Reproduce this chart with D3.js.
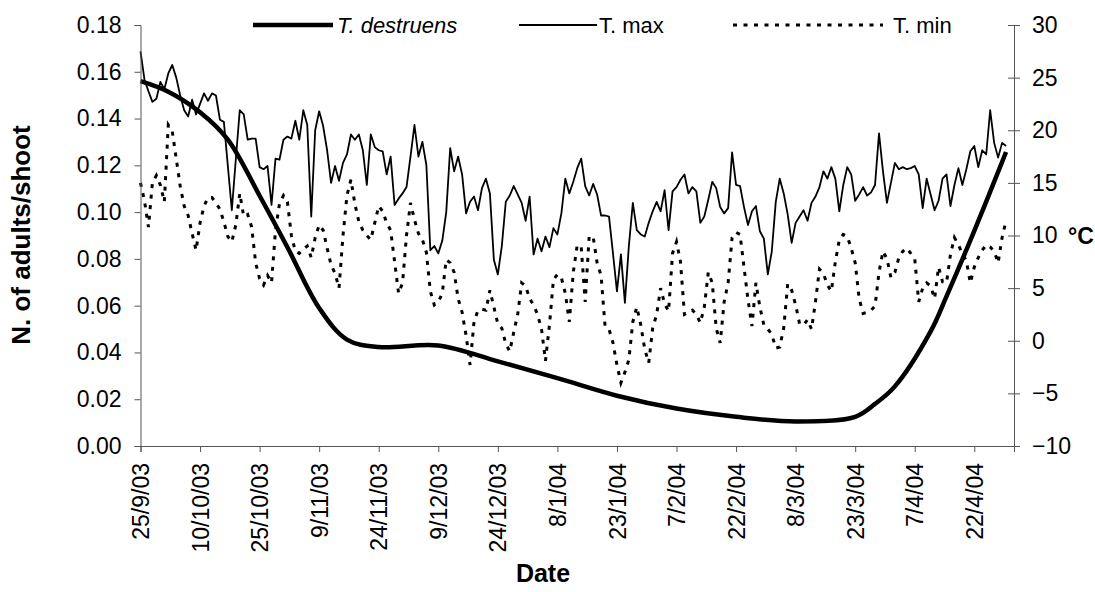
<!DOCTYPE html>
<html>
<head>
<meta charset="utf-8">
<script src="https://cdnjs.cloudflare.com/ajax/libs/d3/7.8.5/d3.min.js"></script>
<style>
  body { margin: 0; background: #fff; }
  svg { display: block; font-family: "Liberation Sans", Arial, sans-serif; }
</style>
</head>
<body>
<svg id="chart" width="1095" height="592"></svg>
<script>
// first day of the daily temperature series and end of the date axis
var startDay = "25/9/03";
var axisEnd = "2/5/04";

var tickLabels = ["25/9/03", "10/10/03", "25/10/03", "9/11/03", "24/11/03", "9/12/03",
  "24/12/03", "8/1/04", "23/1/04", "7/2/04", "22/2/04", "8/3/04", "23/3/04", "7/4/04", "22/4/04"];
var leftTicks = [0, 0.02, 0.04, 0.06, 0.08, 0.10, 0.12, 0.14, 0.16, 0.18];
var rightTicks = [-10, -5, 0, 5, 10, 15, 20, 25, 30];

// T. destruens, adults per shoot (sampling dates)
var destruensDates = ["25/9/03", "2/10/03", "10/10/03", "17/10/03", "25/10/03", "1/11/03",
  "9/11/03", "16/11/03", "24/11/03", "9/12/03", "24/12/03", "8/1/04", "23/1/04", "7/2/04",
  "22/2/04", "8/3/04", "23/3/04", "28/3/04", "2/4/04", "11/4/04", "15/4/04",
  "22/4/04", "30/4/04"];
var destruensValues = [0.156, 0.1515, 0.1427, 0.131, 0.107, 0.085,
  0.059, 0.0455, 0.0423, 0.0430, 0.0362, 0.0290, 0.0215, 0.0160,
  0.0125, 0.0105, 0.0125, 0.0180, 0.0255, 0.0490, 0.0640,
  0.0920, 0.1257];

// daily maximum temperature, °C, from 25/9/03
var tMax = [
  27.5, 24.8, 23.7, 22.7, 23.0, 24.6, 23.9, 25.4, 26.2, 25.0,
  23.3, 21.9, 21.3, 22.9, 21.5, 22.5, 23.5, 22.8, 23.5, 23.3,
  21.0, 20.8, 16.6, 12.4, 17.2, 21.9, 21.5, 19.1, 19.2, 19.2,
  16.5, 16.3, 16.6, 12.9, 17.3, 17.2, 19.1, 19.4, 19.2, 20.9,
  19.1, 21.9, 20.5, 11.8, 20.0, 21.8, 20.4, 18.1, 15.0, 16.6,
  15.2, 16.9, 17.7, 19.6, 19.1, 19.6, 18.1, 14.8, 19.6, 18.4,
  18.1, 18.0, 15.8, 17.5, 12.9, 13.5, 14.0, 14.6, 17.5, 20.5,
  17.5, 18.9, 16.7, 8.6, 9.0, 8.3, 9.5, 12.2, 18.3, 16.1,
  17.5, 15.8, 12.1, 13.2, 13.7, 12.4, 14.5, 15.4, 14.0, 7.7,
  6.3, 9.0, 13.2, 13.8, 14.7, 13.9, 13.1, 11.4, 13.7, 8.2,
  9.7, 8.5, 9.9, 8.9, 10.7, 10.1, 12.1, 15.4, 14.0, 15.1,
  16.4, 17.3, 14.7, 13.8, 14.9, 13.9, 11.9, 11.9, 11.8, 8.3,
  4.7, 8.2, 3.6, 9.0, 13.1, 10.5, 10.1, 9.9, 11.2, 12.3,
  13.2, 12.3, 14.3, 10.5, 14.2, 14.6, 15.3, 15.8, 14.0, 14.6,
  14.2, 11.2, 11.8, 13.4, 15.1, 14.5, 12.7, 12.1, 12.6, 17.9,
  14.8, 14.7, 12.7, 11.0, 12.3, 12.8, 10.4, 9.7, 6.3, 8.5,
  13.2, 15.4, 14.0, 12.0, 9.3, 11.2, 11.8, 12.4, 11.4, 13.1,
  13.7, 14.6, 16.1, 15.4, 16.5, 15.4, 12.3, 14.8, 16.5, 15.8,
  13.3, 13.9, 14.6, 13.8, 14.1, 14.8, 19.7, 16.1, 13.1, 15.0,
  16.9, 16.3, 16.5, 16.3, 16.4, 16.6, 15.8, 12.6, 15.4, 13.9,
  12.4, 13.3, 15.4, 15.8, 12.8, 14.8, 16.4, 14.8, 16.3, 18.0,
  18.5, 16.5, 18.1, 17.7, 21.9, 18.8, 17.4, 18.8, 18.5
];

// daily minimum temperature, °C, from 25/9/03
var tMin = [
  15.0, 13.3, 10.8, 15.0, 15.7, 14.8, 13.2, 20.5, 19.9, 17.3,
  14.7, 12.8, 11.9, 10.2, 8.6, 11.2, 12.8, 13.6, 13.6, 13.1,
  12.5, 11.3, 9.9, 9.4, 11.0, 14.0, 11.8, 12.0, 10.8, 7.4,
  5.9, 5.3, 6.2, 5.5, 10.5, 13.0, 13.8, 13.2, 10.0, 8.5,
  8.3, 8.7, 9.0, 7.9, 9.8, 11.0, 10.5, 8.8, 7.2, 6.4,
  5.0, 10.0, 13.8, 15.3, 13.0, 11.3, 10.5, 10.0, 9.6, 11.2,
  12.8, 12.3, 11.2, 10.5, 7.5, 4.5, 5.5, 10.0, 13.1, 11.5,
  10.2, 9.6, 8.4, 4.7, 3.4, 3.7, 4.5, 7.7, 7.4, 6.5,
  4.0, 2.7, 0.5, -2.3, 1.8, 2.9, 3.0, 2.9, 4.8, 3.2,
  1.6, 1.2, -0.3, -1.0, 0.8, 2.5, 5.5, 5.2, 4.0, 3.4,
  2.5, 1.1, -1.9, 1.5, 5.8, 6.3, 6.0, 4.5, 1.8, 6.5,
  9.1, 8.9, 3.7, 9.9, 9.9, 7.4, 6.2, 1.4, 1.1, -0.2,
  -2.3, -4.0, -3.0, -1.8, 1.8, 3.2, 1.5, -0.8, -2.1, 1.2,
  2.5, 5.0, 3.5, 2.8, 8.3, 9.4, 7.5, 2.5, 2.7, 2.9,
  2.5, 1.7, 3.2, 6.5, 5.5, 1.2, -0.2, 3.7, 5.5, 9.8,
  10.3, 10.1, 7.0, 3.9, 1.4, 5.5, 3.2, 1.5, 1.1, 0.6,
  -0.7, -0.6, 1.2, 5.4, 4.8, 3.4, 1.6, 1.5, 2.0, 1.1,
  3.7, 6.8, 6.4, 5.3, 4.7, 7.5, 9.6, 10.1, 9.9, 8.8,
  7.4, 4.0, 2.6, 2.7, 2.9, 3.3, 6.5, 8.5, 7.8, 6.0,
  6.5, 7.9, 8.5, 8.8, 8.3, 7.8, 3.7, 5.0, 5.5, 5.2,
  4.0, 7.0, 5.6, 5.5, 8.2, 9.8, 9.1, 8.3, 7.6, 5.5,
  7.0, 7.9, 8.6, 9.1, 8.9, 8.5, 7.4, 9.8, 11.4
];

var parse = d3.utcParse("%d/%m/%y");
var fmt = d3.utcFormat("%-d/%-m/%y");
var start = parse(startDay);

var plotLeft = 140.5, plotRight = 1014, plotTop = 25, plotBottom = 446;
var axisColor = "#555";

var svg = d3.select("#chart");

var x = d3.scaleUtc().domain([start, parse(axisEnd)]).range([plotLeft, plotRight]);
var yL = d3.scaleLinear().domain([0, 0.18]).range([plotBottom, plotTop]);
var yR = d3.scaleLinear().domain([-10, 30]).range([plotBottom, plotTop]);

function daily(arr) {
  return arr.map(function (v, i) { return { date: d3.utcDay.offset(start, i), v: v }; });
}

// temperature series
var tLine = d3.line().x(function (d) { return x(d.date); }).y(function (d) { return yR(d.v); });

svg.append("path")
  .datum(daily(tMin))
  .attr("d", tLine)
  .attr("fill", "none")
  .attr("stroke", "#000")
  .attr("stroke-width", 3)
  .attr("stroke-dasharray", "4,6.5");

svg.append("path")
  .datum(daily(tMax))
  .attr("d", tLine)
  .attr("fill", "none")
  .attr("stroke", "#000")
  .attr("stroke-width", 1.8)
  .attr("stroke-linejoin", "round");

// T. destruens smoothed line
var dLine = d3.line()
  .curve(d3.curveCatmullRom.alpha(0.5))
  .x(function (d, i) { return x(parse(destruensDates[i])); })
  .y(function (d) { return yL(d); });

svg.append("path")
  .datum(destruensValues)
  .attr("d", dLine)
  .attr("fill", "none")
  .attr("stroke", "#000")
  .attr("stroke-width", 4.5)
  .attr("stroke-linejoin", "round");

// axes
var tickDates = tickLabels.map(parse);

var gx = svg.append("g")
  .attr("transform", "translate(0," + plotBottom + ")")
  .call(d3.axisBottom(x).tickValues(tickDates).tickFormat(fmt).tickSizeOuter(0).tickSize(6));
gx.selectAll("text")
  .attr("transform", "rotate(-90)")
  .attr("x", -17)
  .attr("y", 0)
  .attr("dy", "0.35em")
  .style("text-anchor", "end");

var gl = svg.append("g")
  .attr("transform", "translate(" + plotLeft + ",0)")
  .call(d3.axisLeft(yL).tickValues(leftTicks).tickFormat(d3.format(".2f")).tickSizeOuter(0).tickSize(6).tickPadding(13));

var gr = svg.append("g")
  .attr("transform", "translate(" + plotRight + ",0)")
  .call(d3.axisRight(yR).tickValues(rightTicks).tickFormat(d3.format("d")).tickSizeOuter(0).tickSize(6).tickPadding(12));
gr.selectAll(".tick line").attr("x1", -6);

[gx, gl, gr].forEach(function (g) {
  g.select(".domain").attr("stroke", axisColor);
  g.selectAll(".tick line").attr("stroke", axisColor);
  g.selectAll("text").attr("fill", "#000").style("font-size", "23px")
    .style("font-family", "'Liberation Sans', Arial, sans-serif");
});

// axis titles
svg.append("text")
  .attr("transform", "translate(30,235) rotate(-90)")
  .attr("text-anchor", "middle")
  .style("font-size", "26px")
  .style("font-weight", "bold")
  .text("N. of adults/shoot");

svg.append("text")
  .attr("x", 1068).attr("y", 244)
  .style("font-size", "23px")
  .style("font-weight", "bold")
  .text("°C");

svg.append("text")
  .attr("x", 543).attr("y", 582)
  .attr("text-anchor", "middle")
  .style("font-size", "25px")
  .style("font-weight", "bold")
  .text("Date");

// legend
var legend = [
  { x1: 253, x2: 333, tx: 337, w: 4.5, dash: null, label: "T. destruens", italic: true },
  { x1: 519, x2: 597, tx: 599, w: 1.8, dash: null, label: "T. max", italic: false },
  { x1: 733, x2: 883, tx: 893, w: 3, dash: "4,6.5", label: "T. min", italic: false }
];
var lg = svg.append("g");
legend.forEach(function (l) {
  lg.append("line")
    .attr("x1", l.x1).attr("x2", l.x2).attr("y1", 25).attr("y2", 25)
    .attr("stroke", "#000").attr("stroke-width", l.w)
    .attr("stroke-dasharray", l.dash);
  lg.append("text")
    .attr("x", l.tx).attr("y", 32.5)
    .style("font-size", "22px")
    .style("font-style", l.italic ? "italic" : "normal")
    .text(l.label);
});
</script>
</body>
</html>
